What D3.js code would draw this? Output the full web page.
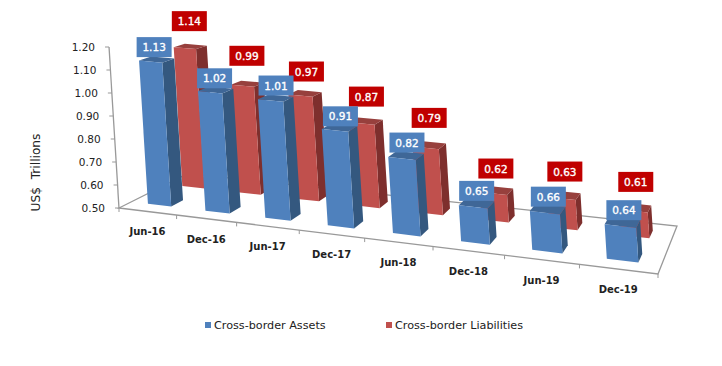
<!DOCTYPE html>
<html><head><meta charset="utf-8">
<script src="https://cdn.jsdelivr.net/npm/d3@7"></script>
<style>html,body{margin:0;padding:0;background:#fff}svg{display:block}text{font-family:"DejaVu Sans",sans-serif}</style>
</head><body><svg id="c" width="722" height="366"></svg>
<script>
const categories=["Jun-16","Dec-16","Jun-17","Dec-17","Jun-18","Dec-18","Jun-19","Dec-19"];
const assets=[1.13,1.02,1.01,0.91,0.82,0.65,0.66,0.64];
const liabilities=[1.14,0.99,0.97,0.87,0.79,0.62,0.63,0.61];
const yTicks=[0.5,0.6,0.7,0.8,0.9,1.0,1.1,1.2];
const seriesNames=["Cross-border Assets","Cross-border Liabilities"];

// Floor quad (front-left, front-right, back-right, back-left)
const [p0,p1,p2,p3]=[[119,208],[658,274],[677,226],[188,173.5]];
const sx=p0[0]-p1[0]+p2[0]-p3[0], sy=p0[1]-p1[1]+p2[1]-p3[1];
const dx1=p1[0]-p2[0], dx2=p3[0]-p2[0], dy1=p1[1]-p2[1], dy2=p3[1]-p2[1];
const den=dx1*dy2-dx2*dy1;
const g=(sx*dy2-dx2*sy)/den, h=(dx1*sy-sx*dy1)/den;
const a=p1[0]-p0[0]+g*p1[0], b=p3[0]-p0[0]+h*p3[0], d=p1[1]-p0[1]+g*p1[1], e=p3[1]-p0[1]+h*p3[1];
const uS=d3.scaleLinear().domain([0,categories.length]).range([0,1]);
const yS=d3.scaleLinear().domain([0.5,1.2]).range([0,161]);
const grow=d3.scaleLinear().domain([0,categories.length]).range([1,1.09]);
const fade=d3.scaleLinear().domain([0,1]).range([1,0.91]);
function project(u,v,val){
  const s=uS(u), w=g*s+h*v+1;
  const x=(a*s+b*v+p0[0])/w, y=(d*s+e*v+p0[1])/w;
  const H=yS(val)*grow(u)*fade(v);
  return [x-H*0.062,y-H];
}
const svg=d3.select("#c");
const pts=a=>a.map(p=>p.join(",")).join(" ");

const floor=svg.append("g").attr("fill","none").attr("stroke","#999").attr("stroke-width",1.3);
floor.append("polygon").attr("points",pts([p0,p1,p2,p3]));
const yaxis=svg.append("g");
yaxis.append("line").attr("x1",project(0,0,1.2)[0]).attr("y1",project(0,0,1.2)[1]).attr("x2",p0[0]).attr("y2",p0[1]).attr("stroke","#999").attr("stroke-width",1.3);
yaxis.selectAll("line.t").data(yTicks).join("line").attr("class","t")
 .attr("x1",t=>project(0,0,t)[0]-4).attr("x2",t=>project(0,0,t)[0]).attr("y1",t=>project(0,0,t)[1]).attr("y2",t=>project(0,0,t)[1]).attr("stroke","#999");
yaxis.selectAll("text").data(yTicks).join("text")
 .attr("x",t=>project(0,0,t)[0]-14).attr("y",t=>project(0,0,t)[1]+4).attr("text-anchor","end")
 .attr("font-size",10.5).attr("fill","#222").text(t=>t.toFixed(2));
svg.append("g").selectAll("line").data(d3.range(0,categories.length+1)).join("line")
 .attr("x1",i=>project(i,0,.5)[0]).attr("y1",i=>project(i,0,.5)[1])
 .attr("x2",i=>project(i,0,.5)[0]).attr("y2",i=>project(i,0,.5)[1]+4).attr("stroke","#999");
svg.append("g").selectAll("text").data(categories).join("text")
 .attr("x",(c,i)=>project(i+.5,0,.5)[0]).attr("y",(c,i)=>project(i+.5,0,.5)[1]+24)
 .attr("text-anchor","middle").attr("font-size",10).attr("font-weight","bold").attr("fill","#222").text(c=>c);

function bars(vals,v0,v1,cols){
  const u0=.295,u1=.705;
  const gg=svg.append("g").selectAll("g").data(vals).join("g");
  gg.append("polygon").attr("fill",cols[1]).attr("points",(val,i)=>pts([project(i+u1,v0,.5),project(i+u1,v1,.5),project(i+u1,v1,val),project(i+u1,v0,val)]));
  gg.append("polygon").attr("fill",cols[2]).attr("points",(val,i)=>pts([project(i+u0,v0,val),project(i+u1,v0,val),project(i+u1,v1,val),project(i+u0,v1,val)]));
  gg.append("polygon").attr("fill",cols[0]).attr("points",(val,i)=>pts([project(i+u0,v0,.5),project(i+u1,v0,.5),project(i+u1,v0,val),project(i+u0,v0,val)]));
}
const blue=["#4F81BD","#34587F","#3F6797"], red=["#C0504D","#7E2F2D","#97403D"];
bars(liabilities,.665,.835,red);
bars(assets,.165,.335,blue);

// Hand-placed label offsets from each bar's top, as in the original chart
const assetNudge=[[3.5,-14.5],[4.5,-14],[5.5,-15],[5.5,-14],[5,-16],[3.5,-16],[3.5,-16],[3.5,-16]];
const liabilityNudge=[[4.5,-27],[4.5,-30],[6,-24],[4.5,-27],[3.5,-30],[2.5,-25],[3.5,-27],[3,-29]];
function labels(vals,v0,fill,nudge){
  const gg=svg.append("g").selectAll("g").data(vals).join("g")
   .attr("transform",(val,i)=>{const p=project(i+.5,v0,val);return `translate(${p[0]+nudge[i][0]},${p[1]+nudge[i][1]})`;});
  gg.append("rect").attr("x",-17.5).attr("y",-10).attr("width",35).attr("height",20).attr("fill",fill);
  gg.append("text").attr("y",4).attr("text-anchor","middle").attr("font-size",10.5).attr("fill","#fff").attr("stroke","#fff").attr("stroke-width",.35).text(val=>val.toFixed(2));
}
labels(liabilities,.665,"#C00000",liabilityNudge);
labels(assets,.165,"#4F81BD",assetNudge);

svg.append("text").attr("transform","translate(40,172.5) rotate(-90)").attr("text-anchor","middle").attr("font-size",12.2).attr("fill","#222").attr("xml:space","preserve").text("US$  Trillions");
const lg=svg.append("g").selectAll("g").data(seriesNames).join("g").attr("transform",(n,i)=>`translate(${[205,386][i]},322)`);
lg.append("rect").attr("width",6).attr("height",6).attr("fill",(n,i)=>[blue[0],red[0]][i]);
lg.append("text").attr("x",9).attr("y",6.5).attr("font-size",11.2).attr("fill","#222").text(n=>n);
</script></body></html>
